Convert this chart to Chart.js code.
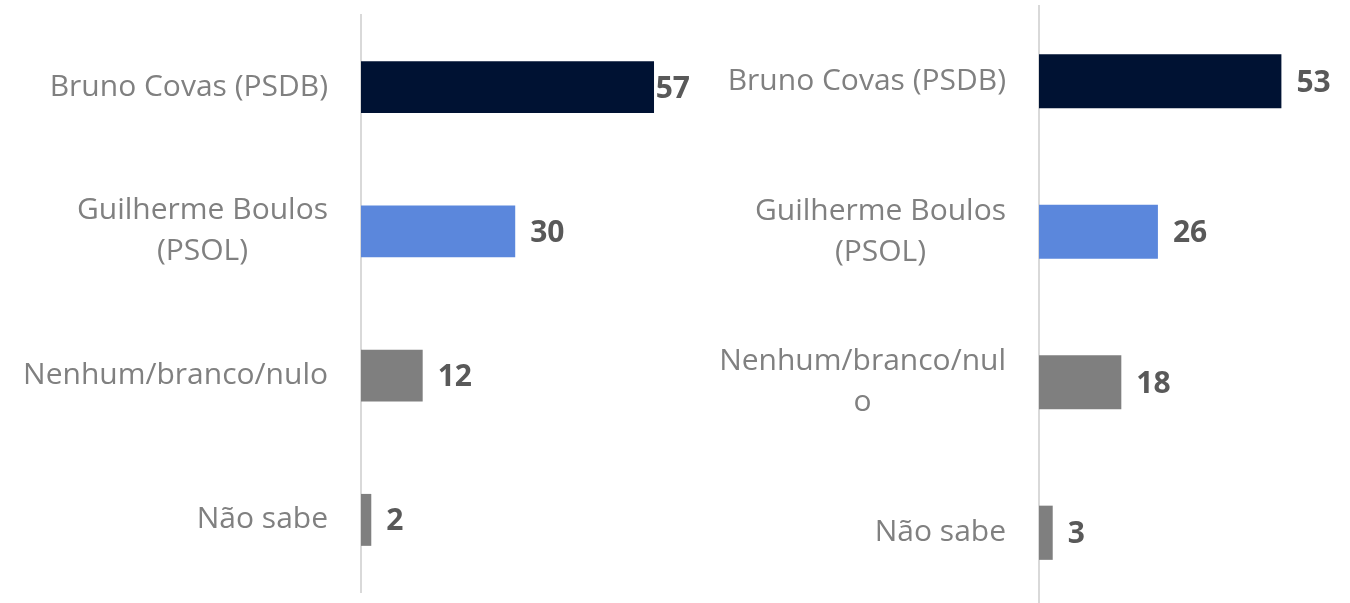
<!DOCTYPE html>
<html lang="pt-BR">
<head>
<meta charset="utf-8">
<script src="https://cdn.jsdelivr.net/npm/chart.js@4"></script>
<style>
  html, body { margin: 0; padding: 0; background: #ffffff; overflow: hidden; }
  body { width: 1350px; height: 603px; position: relative; }
  .painel { position: absolute; top: 0; }
  #painelEsq { left: 0; }
  #painelDir { left: 680px; }
</style>
</head>
<body>
<div class="painel" id="painelEsq"><canvas id="graficoEsq" width="690" height="603"></canvas></div>
<div class="painel" id="painelDir"><canvas id="graficoDir" width="670" height="610"></canvas></div>
<script>
// ===================== DADOS =====================
// Gráfico da esquerda
const categoriasEsq = [['Bruno Covas (PSDB)'], ['Guilherme Boulos', '(PSOL)'], ['Nenhum/branco/nulo'], ['Não sabe']]
const valoresEsq = [57, 30, 12, 2]
// Gráfico da direita
const categoriasDir = [['Bruno Covas (PSDB)'], ['Guilherme Boulos', '(PSOL)'], ['Nenhum/branco/nul', 'o'], ['Não sabe']]
const valoresDir = [53, 26, 18, 3]
// Cores das barras (mesma ordem das categorias)
const coresBarras = ['#001233', '#5b87dc', '#7f7f7f', '#7f7f7f']

// ===================== RÓTULOS =====================
// Desenha os nomes (linhas centralizadas entre si, bloco alinhado à direita) e os valores
const pluginRotulos = {
    id: 'rotulos',
    afterDatasetsDraw(chart) {
        const ctx = chart.ctx
        const eixoY = chart.scales.y
        const area = chart.chartArea
        ctx.save()
        ctx.textBaseline = 'middle'

        // nomes das categorias
        ctx.font = '30px "Open Sans"'
        ctx.fillStyle = '#808080'
        ctx.textAlign = 'center'
        chart.data.labels.forEach((linhas, i) => {
            const yc = eixoY.getPixelForTick(i)
            const largura = Math.max(...linhas.map(l => ctx.measureText(l).width))
            const xc = area.left - 33 - largura / 2
            linhas.forEach((l, j) => {
                ctx.fillText(l, xc, yc + (j - (linhas.length - 1) / 2) * 41)
            })
        })

        // valores no fim das barras
        ctx.font = 'bold 30px "Open Sans"'
        ctx.fillStyle = '#595959'
        ctx.textAlign = 'left'
        const valores = chart.data.datasets[0].data
        chart.getDatasetMeta(0).data.forEach((barra, i) => {
            const txt = String(valores[i])
            const w = ctx.measureText(txt).width
            const x = Math.min(barra.x + 15, area.right - w)
            ctx.fillText(txt, x, barra.y + 2)
        })
        ctx.restore()
    }
}

// ===================== CONFIG =====================
function montarConfig(categorias, valores, maximo, larguraEixo, padTopo, padBase) {
    return {
        type: 'bar',
        data: {
            labels: categorias,
            datasets: [{
                data: valores,
                backgroundColor: coresBarras,
                borderWidth: 0,
                barPercentage: 0.36,
                categoryPercentage: 1
            }]
        },
        options: {
            indexAxis: 'y',
            responsive: false,
            animation: false,
            layout: { padding: { top: padTopo, bottom: padBase, left: 0, right: 0 } },
            plugins: {
                legend: { display: false },
                tooltip: { enabled: false }
            },
            scales: {
                x: { display: false, min: 0, max: maximo },
                y: {
                    ticks: { display: false },
                    grid: { display: false },
                    border: { display: true, color: '#d9d9d9', width: 2 },
                    afterFit(escala) { escala.width = larguraEixo }
                }
            }
        },
        plugins: [pluginRotulos]
    }
}

// ===================== PRIMÁRIO =====================
const graficoEsq = new Chart(document.getElementById('graficoEsq').getContext('2d'),
    montarConfig(categoriasEsq, valoresEsq, 64, 361, 15, 11))
const graficoDir = new Chart(document.getElementById('graficoDir').getContext('2d'),
    montarConfig(categoriasDir, valoresDir, 68, 359, 6, 2))
</script>
</body>
</html>
